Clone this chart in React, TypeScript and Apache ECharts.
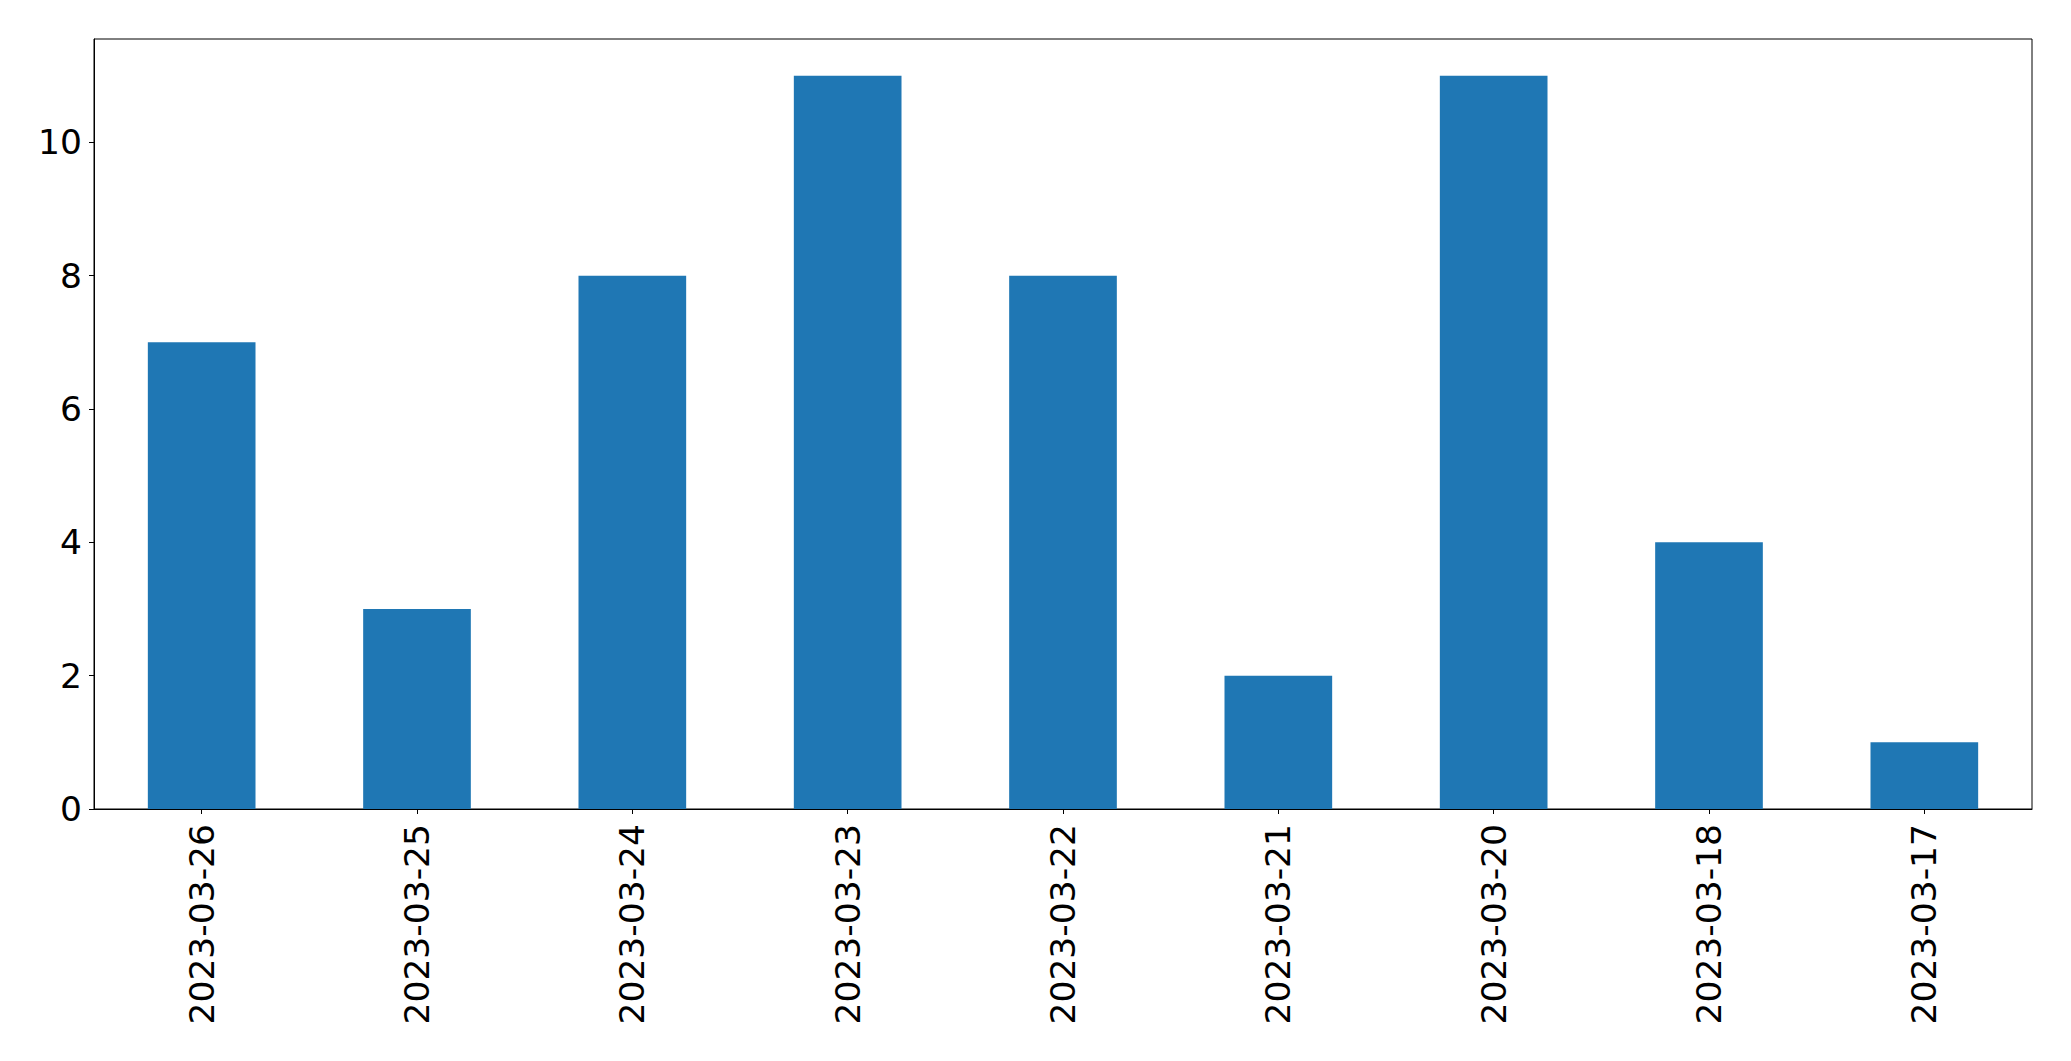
import React, { useEffect, useRef } from "react";
import * as echarts from "echarts";

const categories = [
  "2023-03-26",
  "2023-03-25",
  "2023-03-24",
  "2023-03-23",
  "2023-03-22",
  "2023-03-21",
  "2023-03-20",
  "2023-03-18",
  "2023-03-17",
];
const values = [7, 3, 8, 11, 8, 2, 11, 4, 1];
const yTicks = [0, 2, 4, 6, 8, 10];

export default function App() {
  const ref = useRef<HTMLDivElement>(null);
  useEffect(() => {
    if (!ref.current) return;
    const chart = echarts.init(ref.current, null, { renderer: "svg" });
    const font = "DejaVu Sans";
    chart.setOption({
      animation: false,
      backgroundColor: "#ffffff",
      grid: {
        left: 94,
        top: 39,
        width: 1938,
        height: 770,
        show: true,
        borderColor: "#000",
        borderWidth: 1,
        backgroundColor: "transparent",
      },
      xAxis: {
        type: "category",
        data: categories,
        axisLine: { show: true, lineStyle: { color: "#000", width: 1 } },
        axisTick: { show: true, alignWithLabel: true, length: 5, lineStyle: { color: "#000", width: 1 } },
        axisLabel: {
          rotate: 90,
          margin: 15,
          fontFamily: font,
          fontSize: 34.5,
          color: "#000",
        },
        splitLine: { show: false },
      },
      yAxis: {
        type: "value",
        min: 0,
        max: 11.55,
        axisLine: { show: true, lineStyle: { color: "#000", width: 1 } },
        axisTick: {
          show: true,
          length: 5,
          lineStyle: { color: "#000", width: 1 },
          customValues: yTicks,
        },
        axisLabel: {
          margin: 12,
          fontFamily: font,
          fontSize: 34.5,
          color: "#000",
          customValues: yTicks,
        },
        splitLine: { show: false },
      },
      series: [
        {
          type: "bar",
          data: values,
          barWidth: "50%",
          itemStyle: { color: "#1f77b4" },
        },
      ],
    });
    return () => chart.dispose();
  }, []);
  return (
    <div
      ref={ref}
      style={{ position: "fixed", left: 0, top: 0, width: 2071, height: 1061, background: "#fff" }}
    />
  );
}
